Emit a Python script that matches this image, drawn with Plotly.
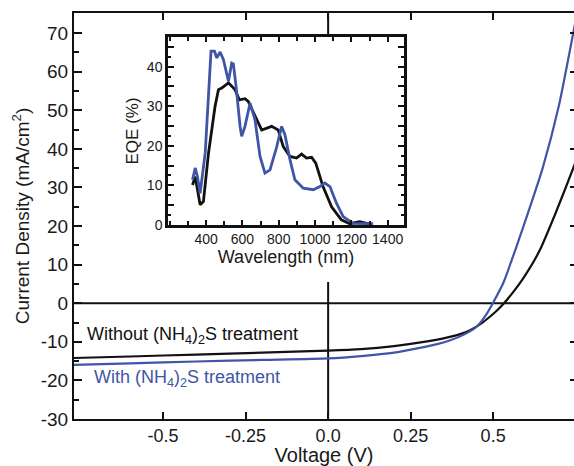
import plotly.graph_objects as go

# ---- J-V data ----
v_without = [-0.77, -0.6, -0.4, -0.2, 0.0, 0.1, 0.2, 0.3, 0.35, 0.4, 0.43, 0.46, 0.49, 0.51, 0.533, 0.56, 0.59, 0.64, 0.69, 0.745, 0.76]
j_without = [-14.2, -13.8, -13.3, -12.8, -12.3, -11.9, -11.1, -9.9, -9.1, -8.0, -7.0, -5.5, -3.5, -2.0, 0.0, 2.8, 6.3, 13.5, 23.5, 35.5, 39.0]

v_with = [-0.77, -0.6, -0.4, -0.2, 0.0, 0.1, 0.2, 0.27, 0.33, 0.37, 0.41, 0.45, 0.48, 0.499, 0.53, 0.57, 0.61, 0.65, 0.70, 0.745, 0.76]
j_with = [-16.0, -15.6, -15.1, -14.7, -14.3, -13.7, -12.8, -11.7, -10.6, -9.6, -8.2, -6.1, -2.8, 0.0, 5.1, 14.5, 24.5, 35.0, 51.5, 71.0, 77.5]

# ---- EQE data ----
wl_without = [325, 340, 367, 385, 413, 449, 468, 486, 523, 559, 583, 614, 632, 660, 706, 761, 797, 825, 862, 898, 926, 953, 981, 1004, 1044, 1091, 1145, 1191, 1246, 1301]
eqe_without = [10.1, 12.2, 5.1, 5.9, 18.1, 29.9, 34.2, 34.6, 35.9, 34.2, 31.6, 31.9, 31.2, 28.3, 24.0, 24.9, 24.0, 19.8, 17.3, 16.9, 17.9, 16.9, 17.1, 15.6, 9.7, 4.6, 1.3, 0.3, 0.8, 0.2]

wl_with = [325, 340, 352, 367, 395, 427, 446, 459, 477, 495, 523, 541, 550, 565, 587, 596, 614, 642, 669, 697, 724, 752, 788, 816, 834, 862, 889, 935, 990, 1027, 1054, 1082, 1118, 1155, 1210, 1265, 1320]
eqe_with = [11.4, 14.4, 12.2, 8.0, 18.2, 43.9, 43.9, 42.2, 43.7, 41.8, 36.3, 40.9, 40.7, 35.0, 24.9, 22.4, 24.9, 30.8, 26.6, 17.3, 13.1, 13.9, 19.6, 24.9, 22.8, 16.5, 11.4, 9.3, 8.9, 9.7, 10.6, 9.7, 5.5, 2.1, 0.4, 0.3, 0.3]

main_xticks = [-0.5, -0.25, 0.0, 0.25, 0.5]
main_xticktext = ["-0.5", "-0.25", "0.0", "0.25", "0.5"]
main_yticks = [-30, -20, -10, 0, 10, 20, 30, 40, 50, 60, 70]
main_yticktext = ["-30", "-20", "-10", "0", "10", "20", "30", "40", "50", "60", "70"]
inset_xticks = [400, 600, 800, 1000, 1200, 1400]
inset_yticks = [0, 5, 10, 15, 20, 25, 30, 35, 40, 45]
inset_yticktext = ["0", "", "10", "", "20", "", "30", "", "40", ""]

BLACK = "#111111"
BLUE = "#3f55a6"
TXT = "#1a1a1a"
FONT = "Liberation Sans, Arial, sans-serif"

fig = go.Figure()

fig.add_trace(go.Scatter(x=v_without, y=j_without, mode="lines", line=dict(color=BLACK, width=2.2, shape="spline", smoothing=0.6), xaxis="x", yaxis="y", showlegend=False))
fig.add_trace(go.Scatter(x=v_with, y=j_with, mode="lines", line=dict(color=BLUE, width=2.2, shape="spline", smoothing=0.6), xaxis="x", yaxis="y", showlegend=False))

fig.add_trace(go.Scatter(x=wl_without, y=eqe_without, mode="lines", line=dict(color=BLACK, width=2.8), xaxis="x2", yaxis="y2", showlegend=False))
fig.add_trace(go.Scatter(x=wl_with, y=eqe_with, mode="lines", line=dict(color=BLUE, width=2.8), xaxis="x2", yaxis="y2", showlegend=False))

# invisible trace to drive the right-hand tick axis
fig.add_trace(go.Scatter(x=[0], y=[0], mode="markers", marker=dict(opacity=0), xaxis="x", yaxis="y3", showlegend=False, hoverinfo="skip"))

fig.update_layout(
    width=574, height=466,
    margin=dict(l=74, r=0, t=13, b=47),
    paper_bgcolor="white", plot_bgcolor="white",
    font=dict(family=FONT, color=TXT, size=19),
    xaxis=dict(
        domain=[0, 1], range=[-0.77, 0.745],
        tickmode="array", tickvals=main_xticks, ticktext=main_xticktext,
        ticks="inside", ticklen=7, tickwidth=2, tickcolor=BLACK,
        showline=True, linecolor=BLACK, linewidth=2, mirror="ticks",
        showgrid=False, zeroline=False,
        tickfont=dict(size=18), ticklabelstandoff=-1,
        title=dict(text="Voltage (V)", font=dict(size=20), standoff=0),
    ),
    yaxis=dict(
        domain=[0, 1], range=[-30, 75.2],
        tickmode="array", tickvals=main_yticks, ticktext=main_yticktext,
        ticks="inside", ticklen=8, tickwidth=2, tickcolor=BLACK,
        minor=dict(ticks="inside", ticklen=5, tickwidth=2, tickcolor=BLACK, dtick=5, tick0=0, showgrid=False),
        showline=True, linecolor=BLACK, linewidth=2, mirror=False,
        showgrid=False, zeroline=False,
        tickfont=dict(size=19),
        title=dict(text="Current Density (mA/cm<sup>2</sup>)", font=dict(size=19), standoff=6),
    ),
    yaxis3=dict(
        overlaying="y", side="right", range=[-30, 75.2], anchor="x",
        tickmode="array", tickvals=main_yticks, ticks="inside", ticklen=4, tickwidth=2, tickcolor=BLACK,
        showline=False, showgrid=False, zeroline=False, showticklabels=False,
    ),
    xaxis2=dict(
        domain=[0.188, 0.66], anchor="y2", range=[190, 1490],
        tickmode="array", tickvals=inset_xticks,
        ticks="inside", ticklen=5, tickwidth=2, tickcolor=BLACK,
        minor=dict(ticks="inside", ticklen=4, tickwidth=2, tickcolor=BLACK, dtick=100, tick0=0),
        showline=True, linecolor=BLACK, linewidth=2.5, mirror="ticks",
        showgrid=False, zeroline=False,
        tickfont=dict(size=14),
        title=dict(text="Wavelength (nm)", font=dict(size=18), standoff=4),
    ),
    yaxis2=dict(
        domain=[0.478, 0.941], anchor="x2", range=[0, 47.5],
        tickmode="array", tickvals=inset_yticks, ticktext=inset_yticktext,
        ticks="inside", ticklen=6, tickwidth=2, tickcolor=BLACK,
        minor=dict(ticks="inside", ticklen=3, tickwidth=2, tickcolor=BLACK, dtick=2.5, tick0=0),
        showline=True, linecolor=BLACK, linewidth=2.5, mirror="ticks",
        showgrid=False, zeroline=False,
        tickfont=dict(size=14),
        title=dict(text="EQE (%)", font=dict(size=17), standoff=4),
    ),
    shapes=[
        # zero axes of the main plot (vertical one interrupted by the inset)
        dict(type="line", xref="x domain", yref="y", x0=0, x1=1, y0=0, y1=0,
             line=dict(color=BLACK, width=2), layer="below"),
        dict(type="line", xref="x", yref="y", x0=0, x1=0, y0=-30, y1=5.5,
             line=dict(color=BLACK, width=2), layer="below"),
        dict(type="line", xref="x", yref="y domain", x0=0, x1=0, y0=0.94, y1=1,
             line=dict(color=BLACK, width=2), layer="below"),
    ],
    annotations=[
        dict(text="Without (NH<sub>4</sub>)<sub>2</sub>S treatment", xref="paper", yref="y",
             x=0.022, y=-8.3, xanchor="left", yanchor="middle", showarrow=False,
             font=dict(size=18, color=BLACK)),
        dict(text="With (NH<sub>4</sub>)<sub>2</sub>S treatment", xref="paper", yref="y",
             x=0.036, y=-19.5, xanchor="left", yanchor="middle", showarrow=False,
             font=dict(size=18, color=BLUE)),
    ],
)

fig.write_html("out.html")
